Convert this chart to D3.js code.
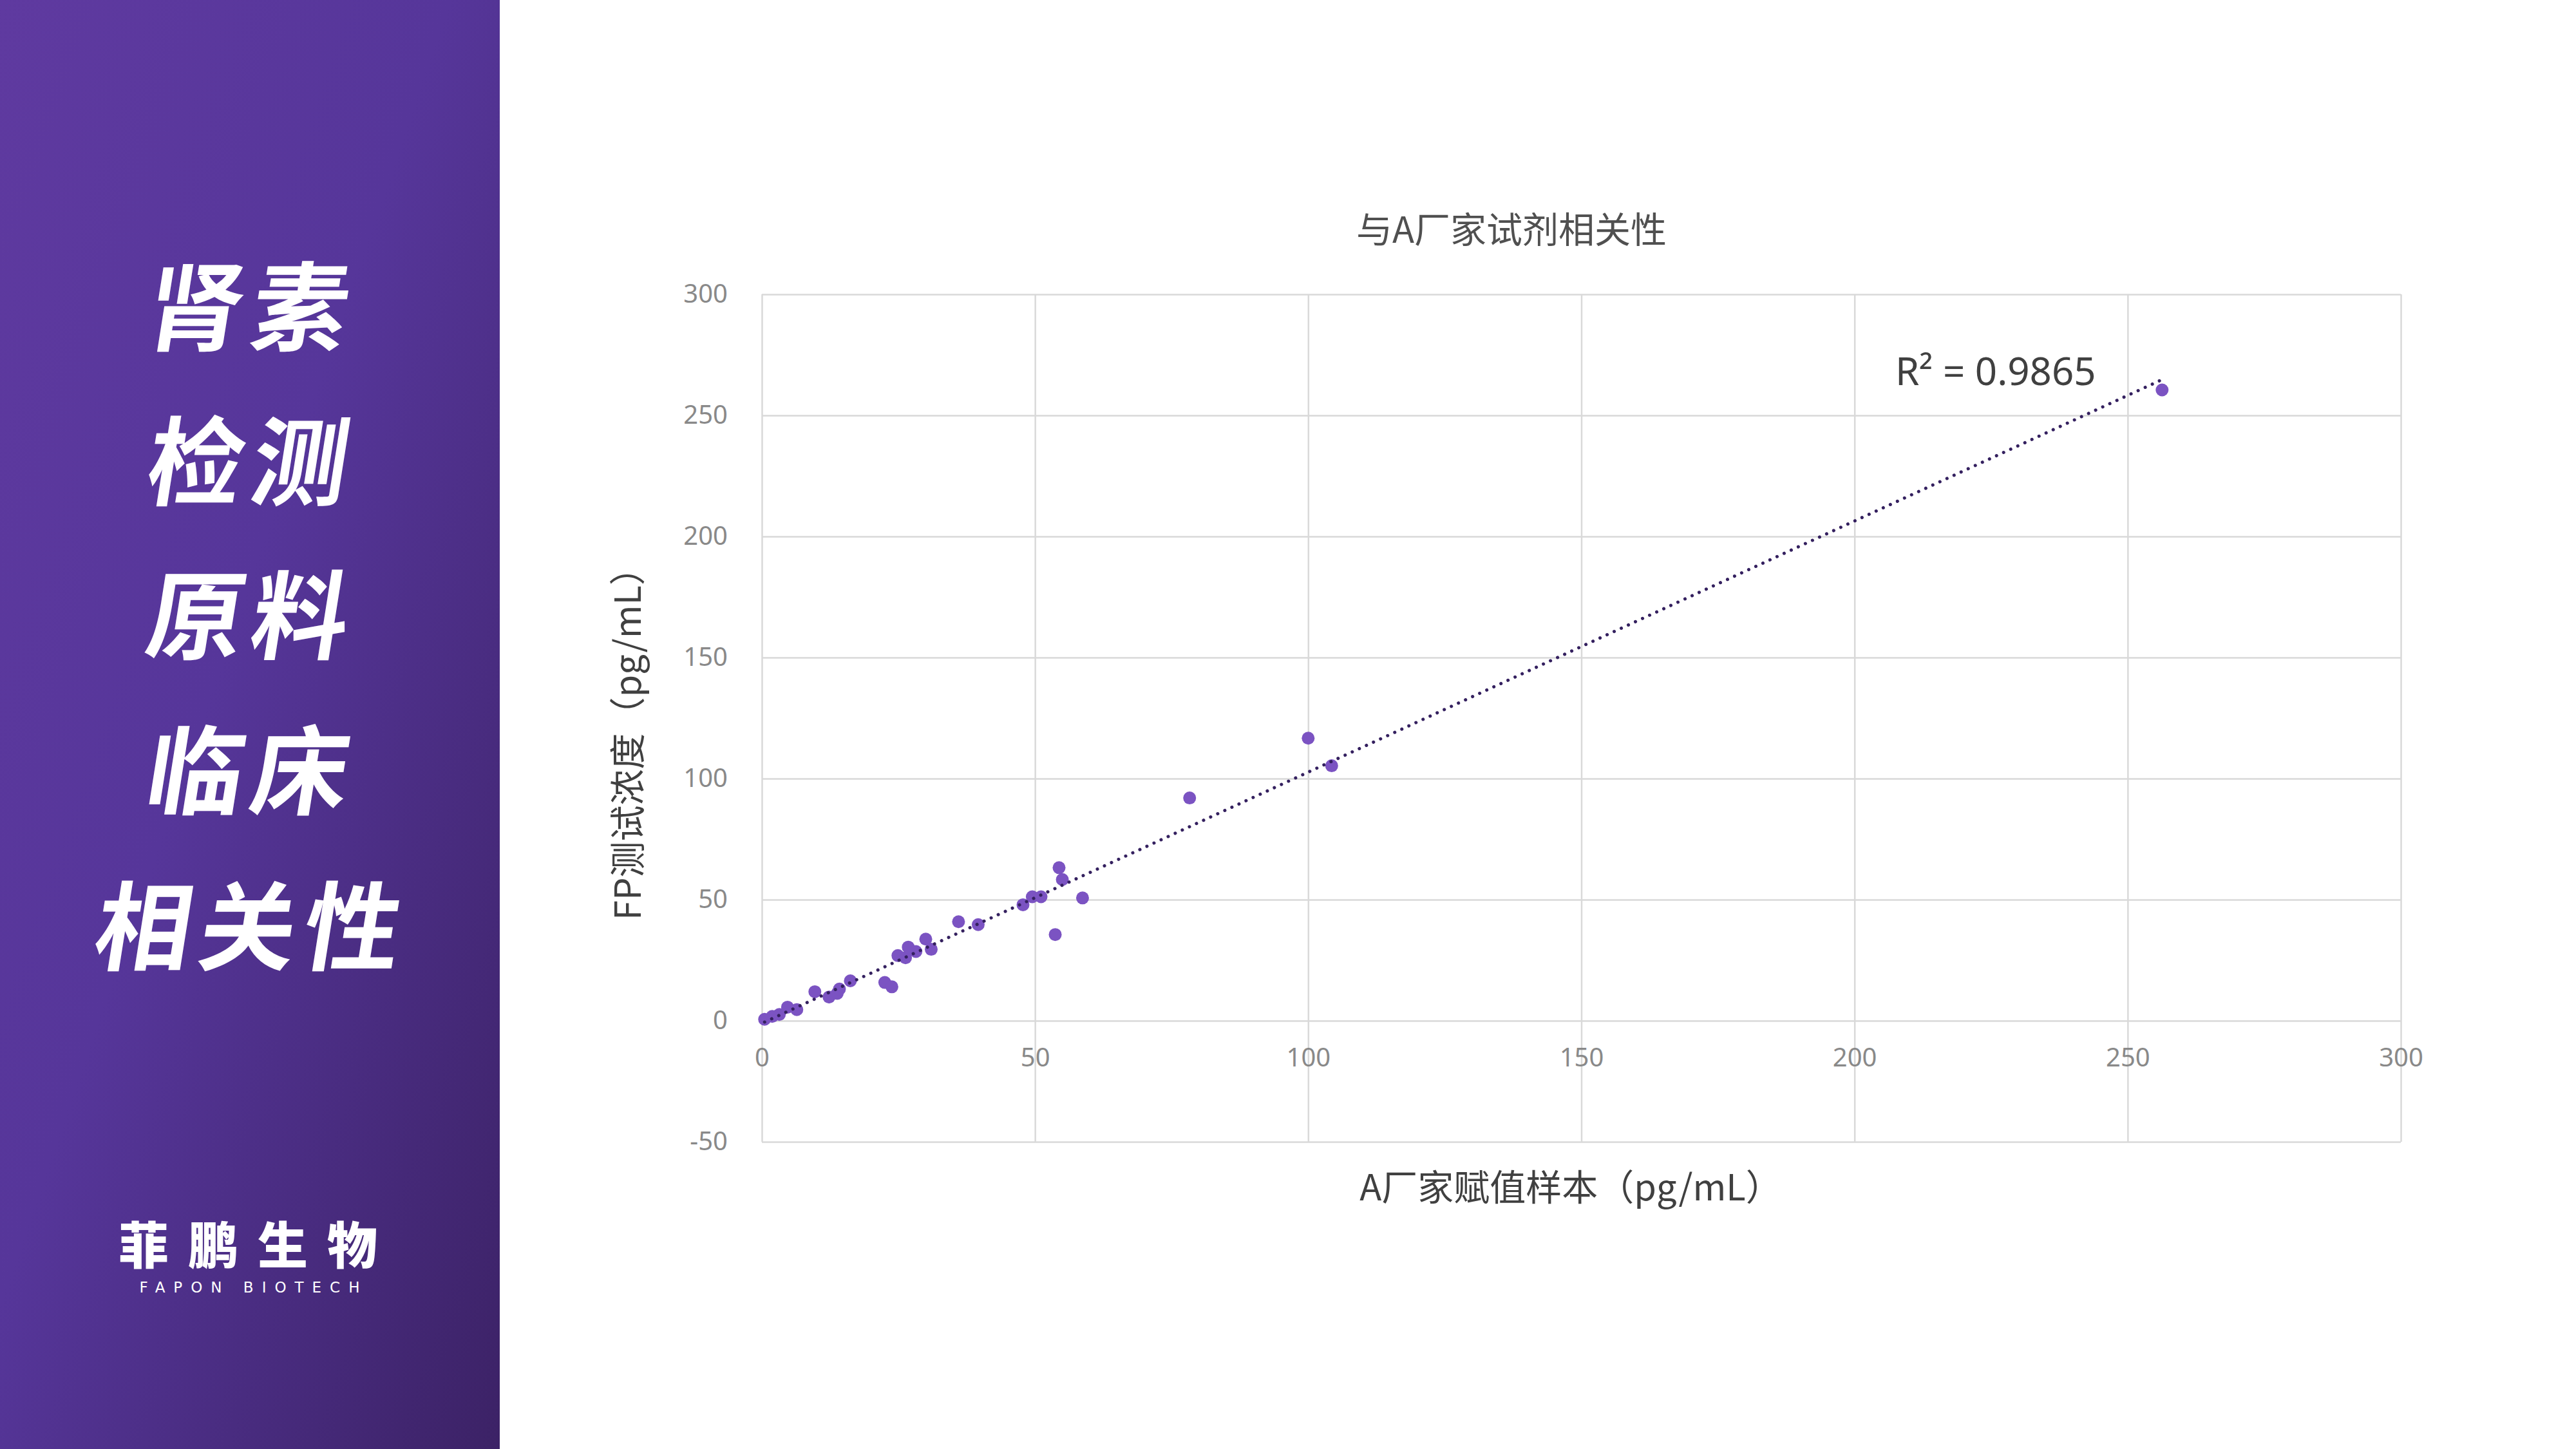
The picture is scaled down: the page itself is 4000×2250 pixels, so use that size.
<!DOCTYPE html>
<html lang="zh">
  <head>
    <meta charset="utf-8">
    <title>与A厂家试剂相关性</title>
    <script type="text/javascript" src="https://d3js.org/d3.v7.min.js"></script>
    <style>
      body { margin: 0; background: #ffffff; }
      svg { display: block; }
    </style>
  </head>
  <body>
    <script type="text/javascript">

    // Data
    var xValues = [0.5, 1.9, 3.2, 4.7, 6.4, 9.7, 12.3, 13.8, 14.2, 16.2, 22.5, 23.8, 24.9, 26.3, 26.8, 28.2,
                   30.0, 31.0, 36.0, 39.6, 47.8, 49.5, 51.1, 54.4, 55.0, 53.7, 58.7, 78.3, 100.0, 104.3, 256.3];
    var yValues = [0.6, 1.8, 2.6, 5.6, 4.6, 12.0, 9.8, 11.3, 13.1, 16.5, 15.8, 14.0, 26.9, 26.0, 30.4, 28.6,
                   33.7, 29.5, 40.9, 39.7, 47.9, 51.2, 51.2, 63.2, 58.3, 35.6, 50.7, 92.0, 116.7, 105.3, 260.5];
    var xTicks = [0, 50, 100, 150, 200, 250, 300];
    var yTicks = [-50, 0, 50, 100, 150, 200, 250, 300];
    var titleLines = ["肾素", "检测", "原料", "临床", "相关性"];
    var chartTitle = "与A厂家试剂相关性";
    var xTitle = "A厂家赋值样本（pg/mL）";
    var yTitle = "FP测试浓度（pg/mL）";
    var r2Label = "R² = 0.9865";

    var W = 4000, H = 2250;
    var cjk = "'Noto Sans CJK SC', 'Noto Sans', sans-serif";

    var svg = d3.select("body")
                .append("svg")
                  .attr("width", W)
                  .attr("height", H);

    svg.append("rect")
        .attr("width", W)
        .attr("height", H)
        .attr("fill", "#ffffff");

    // Left purple panel with gradient
    var defs = svg.append("defs");
    var grad = defs.append("linearGradient")
                    .attr("id", "panelGrad")
                    .attr("x1", "0").attr("y1", "0")
                    .attr("x2", "1").attr("y2", "1");
    grad.append("stop").attr("offset", "0").attr("stop-color", "#5f3aa0");
    grad.append("stop").attr("offset", "0.45").attr("stop-color", "#56369a");
    grad.append("stop").attr("offset", "1").attr("stop-color", "#3c2266");

    svg.append("rect")
        .attr("x", 0)
        .attr("y", 0)
        .attr("width", 776)
        .attr("height", H)
        .attr("fill", "url(#panelGrad)");

    // Big slanted headline
    var lineY = [467, 707, 946, 1187, 1429];
    titleLines.forEach(function(t, i) {
      svg.append("text")
          .attr("transform", "translate(" + 394 + "," + lineY[i] + ") skewX(-9)")
          .attr("text-anchor", "middle")
          .attr("dominant-baseline", "central")
          .style("font-family", cjk)
          .style("font-weight", 700)
          .style("font-size", "150px")
          .style("letter-spacing", "12px")
          .attr("fill", "#ffffff")
          .text(t);
    });

    // Logo
    svg.append("text")
        .attr("x", 400)
        .attr("y", 1929)
        .attr("text-anchor", "middle")
        .attr("dominant-baseline", "central")
        .style("font-family", cjk)
        .style("font-weight", 900)
        .style("font-size", "78px")
        .style("letter-spacing", "30px")
        .attr("fill", "#ffffff")
        .text("菲鹏生物");

    svg.append("text")
        .attr("x", 394)
        .attr("y", 1999)
        .attr("text-anchor", "middle")
        .attr("dominant-baseline", "central")
        .style("font-family", "'DejaVu Sans', sans-serif")
        .style("font-size", "23px")
        .style("letter-spacing", "13px")
        .attr("fill", "#ffffff")
        .text("FAPON BIOTECH");

    // Chart area
    var plotLeft = 1183, plotRight = 3728, plotTop = 457, plotBottom = 1773;

    var xScale = d3.scaleLinear()
                    .domain([0, 300])
                    .range([plotLeft, plotRight]);
    var yScale = d3.scaleLinear()
                    .domain([-50, 300])
                    .range([plotBottom, plotTop]);

    // Gridlines
    var yGrid = d3.axisLeft(yScale).tickValues(yTicks).tickSize(-(plotRight - plotLeft)).tickFormat("");
    svg.append("g")
        .attr("class", "y grid")
        .attr("transform", "translate(" + plotLeft + ",0)")
        .call(yGrid)
        .call(function(g) { g.select(".domain").remove(); })
        .selectAll("line")
          .attr("stroke", "#d9d9d9")
          .attr("stroke-width", 2.5);

    var xGrid = d3.axisBottom(xScale).tickValues(xTicks).tickSize(-(plotBottom - plotTop)).tickFormat("");
    svg.append("g")
        .attr("class", "x grid")
        .attr("transform", "translate(0," + plotBottom + ")")
        .call(xGrid)
        .call(function(g) { g.select(".domain").remove(); })
        .selectAll("line")
          .attr("stroke", "#d9d9d9")
          .attr("stroke-width", 2.5);

    // Tick labels (plain hyphen for negatives, as in the original)
    var plainFormat = function(d) { return String(d); };

    var xAxis = d3.axisBottom(xScale).tickValues(xTicks).tickSize(0).tickPadding(43).tickFormat(plainFormat);
    var gx = svg.append("g")
                .attr("transform", "translate(0," + yScale(0) + ")")
                .call(xAxis);
    gx.select(".domain").remove();
    gx.selectAll("text")
        .style("font-family", "'Noto Sans', sans-serif")
        .style("font-size", "40px")
        .attr("fill", "#898989");

    var yAxis = d3.axisLeft(yScale).tickValues(yTicks).tickSize(0).tickPadding(53).tickFormat(plainFormat);
    var gy = svg.append("g")
                .attr("transform", "translate(" + plotLeft + ",0)")
                .call(yAxis);
    gy.select(".domain").remove();
    gy.selectAll("text")
        .style("font-family", "'Noto Sans', sans-serif")
        .style("font-size", "40px")
        .attr("fill", "#898989");

    // Linear trendline (least squares)
    var n = xValues.length;
    var mx = d3.mean(xValues), my = d3.mean(yValues);
    var sxy = 0, sxx = 0;
    for (var i = 0; i < n; i++) {
      sxy += (xValues[i] - mx) * (yValues[i] - my);
      sxx += (xValues[i] - mx) * (xValues[i] - mx);
    }
    var slope = sxy / sxx;
    var intercept = my - slope * mx;
    var xMin = d3.min(xValues), xMax = d3.max(xValues);

    // Points
    var points = xValues.map(function(d, i) { return {x: d, y: yValues[i]}; });
    svg.append("g")
        .selectAll("circle")
        .data(points)
        .enter()
        .append("circle")
          .attr("cx", function(d) { return xScale(d.x); })
          .attr("cy", function(d) { return yScale(d.y); })
          .attr("r", 10)
          .attr("fill", "#7b53c2");

    svg.append("line")
        .attr("x1", xScale(xMin))
        .attr("y1", yScale(slope * xMin + intercept))
        .attr("x2", xScale(xMax))
        .attr("y2", yScale(slope * xMax + intercept))
        .attr("stroke", "#34205f")
        .attr("stroke-width", 5)
        .attr("stroke-linecap", "round")
        .attr("stroke-dasharray", "0.1 12");

    // R² label
    svg.append("text")
        .attr("x", 2943)
        .attr("y", 598)
        .style("font-family", "'Noto Sans', sans-serif")
        .style("font-size", "60px")
        .attr("fill", "#404040")
        .text(r2Label);

    // Titles
    svg.append("text")
        .attr("x", 2347)
        .attr("y", 352)
        .attr("text-anchor", "middle")
        .attr("dominant-baseline", "central")
        .style("font-family", cjk)
        .style("font-size", "56px")
        .attr("fill", "#505050")
        .text(chartTitle);

    svg.append("text")
        .attr("x", 2439)
        .attr("y", 1839)
        .attr("text-anchor", "middle")
        .attr("dominant-baseline", "central")
        .style("font-family", cjk)
        .style("font-size", "56px")
        .attr("fill", "#404040")
        .text(xTitle);

    svg.append("text")
        .attr("transform", "translate(970,1141) rotate(-90)")
        .attr("text-anchor", "middle")
        .attr("dominant-baseline", "central")
        .style("font-family", cjk)
        .style("font-size", "56px")
        .attr("fill", "#404040")
        .text(yTitle);
    </script>
  </body>
</html>
